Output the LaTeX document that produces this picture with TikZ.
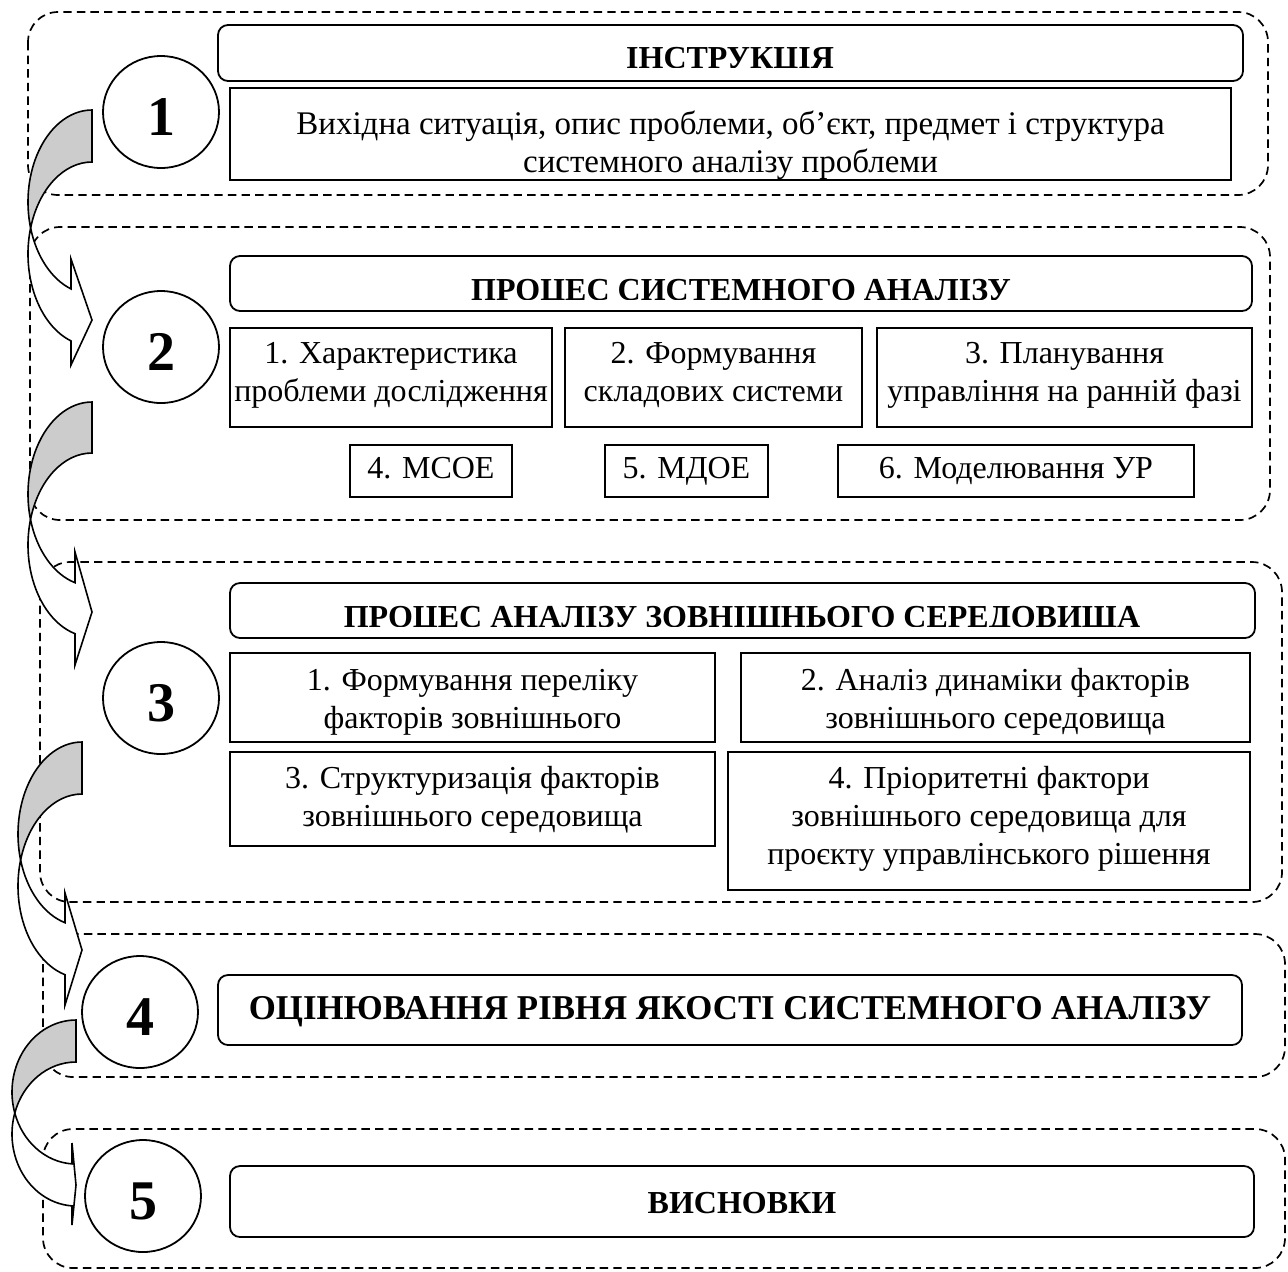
\documentclass[tikz,border=0pt]{standalone}
\usepackage{fontspec}
\setmainfont{Liberation Serif}
\usetikzlibrary{shapes.geometric}

% Curved right arrow: #1 right edge x, #2 top y, #3 width, #4 band thickness,
% #5 vertical radius, #6 head length, #7/#8/#9 upper barb, tip, lower barb (offsets from top)
\newcommand{\turnarrow}[9]{%
  \pgfmathsetmacro{\aTo}{180-asin(#4/(2*#5))}%
  \pgfmathsetmacro{\aTi}{180+asin(#4/(2*#5))}%
  \pgfmathsetmacro{\aTn}{acos(-#6/#3)}%
  \pgfmathsetmacro{\tipx}{#1+#3*cos(\aTo)}%
  \pgfmathsetmacro{\tipy}{#2+#5+#5*sin(\aTo)}%
  \pgfmathsetmacro{\onx}{#1-#6}%
  \pgfmathsetmacro{\ony}{#2+#4+#5+#5*sin(\aTn)}%
  \path[backside] (#1,#2) arc[start angle=270, end angle=\aTo, x radius=#3, y radius=#5]
     arc[start angle=\aTi, end angle=270, x radius=#3, y radius=#5] -- cycle;
  \path[frontside] (\tipx,\tipy) arc[start angle=\aTo, end angle=\aTn, x radius=#3, y radius=#5]
     -- (\onx,#2+#7) -- (#1,#2+#8) -- (\onx,#2+#9) -- (\onx,\ony)
     arc[start angle=\aTn, end angle=\aTi, x radius=#3, y radius=#5] -- cycle;
}

% Box from its corner coordinates (#2,#3)-(#4,#5), style #6, text #7 shifted down by #8
\newcommand{\pbox}[8]{%
  \node[#6, minimum width={(#4-#2)*0.5pt}, minimum height={(#5-#3)*0.5pt}]
    (#1) at ({(#2+#4)/2},{(#3+#5)/2}) {};
  \node[boxtext] (#1t) at ({(#2+#4)/2},{(#3+#5)/2+#8}) {#7};}

\begin{document}
\begin{tikzpicture}[x=0.5pt,y=-0.5pt,
  grp/.style={draw, dash pattern=on 4.2pt off 2.6pt, line width=0.85pt, rounded corners=15pt},
  sbox/.style={draw, line width=0.9pt, inner sep=0pt},
  hbox/.style={sbox, rounded corners=5pt},
  boxtext/.style={align=center, inner sep=0pt, font=\fontsize{16}{19}\selectfont,
                  execute at begin node=\strut, execute at end node=\strut},
  htext/.style={inner sep=0pt, font=\fontsize{16}{19}\selectfont\bfseries},
  numc/.style={draw, ellipse, line width=0.9pt, inner sep=0pt,
               minimum width=58pt, minimum height=56pt,
               text height=23pt, text depth=0pt,
               font=\fontsize{28}{28}\selectfont\bfseries},
  arrline/.style={draw, line width=0.8pt, line join=miter},
  backside/.style={arrline, fill=black!20},
  frontside/.style={arrline, fill=white}]

\useasboundingbox (0,0) rectangle (1288,1271);
\fill[white] (0,0) rectangle (1288,1271);

% stage frames
\draw[grp] (28,12) rectangle (1268,195);
\draw[grp] (30,227) rectangle (1270,520);
\draw[grp] (40,562) rectangle (1282,902);
\draw[grp] (43,934) rectangle (1285,1077);
\draw[grp] (43,1129) rectangle (1285,1268);

% transitions between stages
\turnarrow{92}{110}{64}{52}{92}{21}{149}{210}{255}
\turnarrow{92}{402}{64}{51}{92}{17}{150}{210}{263}
\turnarrow{82}{742}{64}{52}{92}{17}{151}{208}{263}
\turnarrow{76}{1020}{64}{42}{72}{4}{123}{165}{205}

% stage numbers
\node[numc] (n1) at (161,112) {1};
\node[numc] (n2) at (161,347) {2};
\node[numc] (n3) at (161,698) {3};
\node[numc] (n4) at (140,1012) {4};
\node[numc] (n5) at (143,1196) {5};

% stage 1
\node[hbox, minimum width=512.5pt, minimum height=28pt] (h1) at (730.5,53) {};
\begin{scope}
  \clip (218,25) rectangle (1243,67);
  \node[htext, anchor=base] (h1t) at (730,68) {ІНСТРУКЦІЯ};
\end{scope}
\pbox{b1}{230}{88}{1231}{180}{sbox}{\fontsize{16.5}{19.5}\selectfont Вихідна ситуація, опис проблеми, об’єкт, предмет і структура\\\fontsize{16.5}{19.5}\selectfont системного аналізу проблеми}{13}

% stage 2
\node[hbox, minimum width=511pt, minimum height=27.5pt] (h2) at (741,283.5) {};
\begin{scope}
  \clip (230,256) rectangle (1252,299);
  \node[htext, anchor=base] (h2t) at (741,300) {ПРОЦЕС СИСТЕМНОГО АНАЛІЗУ};
\end{scope}
\pbox{b21}{230}{328}{552}{427}{sbox}{1. Характеристика\\проблеми дослідження}{0}
\pbox{b22}{565}{328}{862}{427}{sbox}{2. Формування\\складових системи}{0}
\pbox{b23}{877}{328}{1252}{427}{sbox}{3. Планування\\управління на ранній фазі}{0}
\pbox{b24}{350}{445}{512}{497}{sbox}{4. МСОЕ}{0}
\pbox{b25}{605}{445}{768}{497}{sbox}{5. МДОЕ}{0}
\pbox{b26}{838}{445}{1194}{497}{sbox}{6. Моделювання УР}{0}

% stage 3
\node[hbox, minimum width=512.5pt, minimum height=27.5pt] (h3) at (742.5,610.5) {};
\begin{scope}
  \clip (230,583) rectangle (1255,626);
  \node[htext, anchor=base] (h3t) at (742,627) {ПРОЦЕС АНАЛІЗУ ЗОВНІШНЬОГО СЕРЕДОВИЩА};
\end{scope}
\pbox{b31}{230}{653}{715}{742}{sbox}{1. Формування переліку\\факторів зовнішнього}{7}
\pbox{b32}{741}{653}{1250}{742}{sbox}{2. Аналіз динаміки факторів\\зовнішнього середовища}{7}
\pbox{b33}{230}{752}{715}{846}{sbox}{3. Структуризація факторів\\зовнішнього середовища}{3}
\pbox{b34}{728}{752}{1250}{890}{sbox}{4. Пріоритетні фактори\\зовнішнього середовища для\\проєкту управлінського рішення}{0}

% stage 4
\node[hbox, minimum width=512pt, minimum height=35pt] (h4) at (730,1010) {};
\node[htext, font=\fontsize{17.4}{20}\selectfont\bfseries] (h4t) at (730,1012)
  {ОЦІНЮВАННЯ РІВНЯ ЯКОСТІ СИСТЕМНОГО АНАЛІЗУ};

% stage 5
\node[hbox, minimum width=512pt, minimum height=35.5pt] (h5) at (742,1201.5) {};
\node[htext] (h5t) at (742,1203) {ВИСНОВКИ};

\end{tikzpicture}
\end{document}
